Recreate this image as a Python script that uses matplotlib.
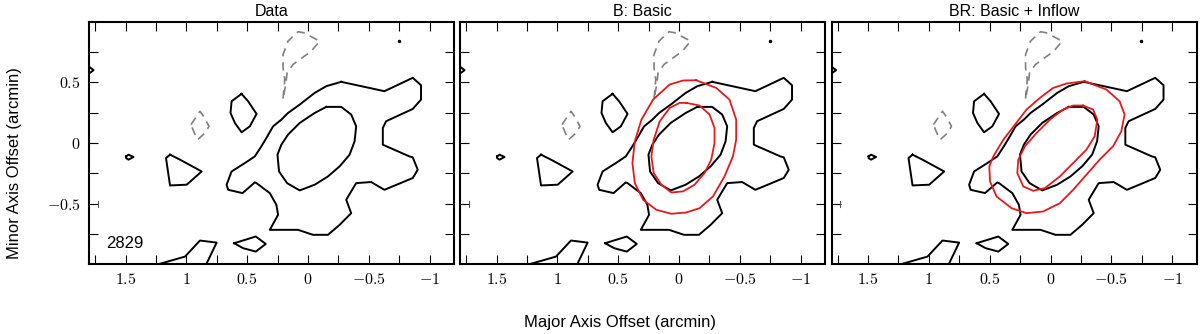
import matplotlib
matplotlib.use("Agg")
import matplotlib.pyplot as plt
from matplotlib.ticker import MultipleLocator, FuncFormatter

plt.rcParams['font.family'] = ['Liberation Sans', 'DejaVu Sans']
plt.rcParams['mathtext.fontset'] = 'cm'

# observed contours (arcmin), shared by every panel
outer_x = [-0.273, -0.628, -0.861, -0.929, -0.929, -0.861, -0.642, -0.615, -0.615, -0.833,
           -0.861, -0.902, -0.861, -0.628, -0.519, -0.396, -0.355, -0.314, -0.355, -0.260,
           -0.164, -0.041, 0.082, 0.314, 0.246, 0.260, 0.314, 0.423, 0.437, 0.538,
           0.656, 0.669, 0.628, 0.519, 0.437, 0.383, 0.342, 0.287, 0.219, 0.164,
           0.068, -0.055, -0.150]
outer_y = [0.503, 0.426, 0.536, 0.475, 0.357, 0.280, 0.179, 0.124, -0.014, -0.110,
           -0.118, -0.220, -0.288, -0.385, -0.321, -0.330, -0.398, -0.467, -0.577, -0.673,
           -0.755, -0.755, -0.714, -0.714, -0.591, -0.508, -0.412, -0.330, -0.324, -0.412,
           -0.385, -0.343, -0.234, -0.165, -0.110, -0.027, 0.041, 0.137, 0.192, 0.247,
           0.316, 0.412, 0.467]

inner_x = [-0.150, -0.273, -0.355, -0.396, -0.383, -0.342, -0.260, -0.164, -0.055, 0.068,
           0.172, 0.238, 0.251, 0.219, 0.164, 0.068, -0.055]
inner_y = [0.297, 0.297, 0.234, 0.137, 0.014, -0.096, -0.192, -0.275, -0.343, -0.390,
           -0.330, -0.234, -0.096, -0.014, 0.069, 0.165, 0.247]

blob_a_x = [0.546, 0.492, 0.423, 0.478, 0.546, 0.601, 0.637, 0.628]
blob_a_y = [0.404, 0.343, 0.239, 0.137, 0.088, 0.165, 0.247, 0.343]

tri_x = [1.134, 1.052, 0.874, 0.997, 1.134, 1.167]
tri_y = [-0.096, -0.137, -0.234, -0.343, -0.349, -0.124]

tiny_x = [1.495, 1.475, 1.434, 1.475, 1.495]
tiny_y = [-0.110, -0.096, -0.115, -0.137, -0.124]

edge_x = [1.83, 1.762, 1.83]
edge_y = [0.65, 0.599, 0.55]

blob_b_x = [0.607, 0.429, 0.347, 0.429, 0.533]
blob_b_y = [-0.824, -0.769, -0.830, -0.893, -0.865]

corner_x = [1.25, 1.230, 1.011, 0.888, 0.751, 0.839, 0.82]
corner_y = [-1.05, -0.997, -0.934, -0.802, -0.819, -1.003, -1.05]

# tiny features: a sliver near the left edge and a dot in the top right
sliver_x = [1.73, 1.73]
sliver_y = [-0.473, -0.523]
dot_x, dot_y = [-0.746], [0.838]

# negative contours (dashed)
neg_a_x = [0.205, 0.191, 0.205, 0.205, 0.164, 0.082, 0.036, -0.096, -0.027, 0.123, 0.172, 0.183]
neg_a_y = [0.365, 0.522, 0.618, 0.728, 0.838, 0.915, 0.907, 0.838, 0.755, 0.646, 0.577, 0.481]
neg_b_x = [0.962, 0.915, 0.888, 0.855, 0.814, 0.847, 0.907, 0.934]
neg_b_y = [0.151, 0.220, 0.261, 0.214, 0.137, 0.082, 0.027, 0.082]

# model B contours
b_outer_x = [-0.142, -0.306, -0.415, -0.470, -0.470, -0.443, -0.374, -0.279, -0.169, -0.060,
             0.063, 0.186, 0.295, 0.363, 0.383, 0.363, 0.309, 0.213, 0.077, -0.033]
b_outer_y = [0.516, 0.453, 0.357, 0.192, 0.027, -0.110, -0.275, -0.440, -0.536, -0.571,
             -0.582, -0.549, -0.467, -0.330, -0.165, 0.014, 0.192, 0.357, 0.481, 0.514]
b_inner_x = [-0.060, -0.169, -0.251, -0.292, -0.292, -0.265, -0.210, -0.128, -0.033, 0.063,
             0.145, 0.208, 0.227, 0.208, 0.158, 0.077, -0.005]
b_inner_y = [0.330, 0.308, 0.234, 0.124, 0.0, -0.137, -0.247, -0.343, -0.398, -0.407,
             -0.343, -0.247, -0.110, 0.027, 0.179, 0.288, 0.330]

# model BR contours
br_outer_x = [-0.281, -0.459, -0.568, -0.609, -0.582, -0.514, -0.404, -0.295, -0.186, -0.077,
              0.060, 0.197, 0.320, 0.443, 0.497, 0.503, 0.470, 0.388, 0.292, 0.197,
              0.087, -0.022, -0.131]
br_outer_y = [0.508, 0.440, 0.343, 0.234, 0.096, -0.027, -0.137, -0.261, -0.385, -0.495,
              -0.563, -0.577, -0.536, -0.440, -0.316, -0.192, -0.110, 0.027, 0.151, 0.275,
              0.371, 0.453, 0.489]
br_inner_x = [-0.268, -0.350, -0.385, -0.363, -0.295, -0.186, -0.077, 0.046, 0.142, 0.224,
              0.273, 0.265, 0.210, 0.115, 0.005, -0.104, -0.186]
br_inner_y = [0.308, 0.275, 0.192, 0.055, -0.055, -0.165, -0.275, -0.371, -0.393, -0.357,
              -0.247, -0.137, -0.027, 0.082, 0.192, 0.275, 0.308]

titles = ["Data", "B: Basic", "BR: Basic + Inflow"]
models = [None, [(b_outer_x, b_outer_y), (b_inner_x, b_inner_y)],
          [(br_outer_x, br_outer_y), (br_inner_x, br_inner_y)]]

solid = [(outer_x, outer_y), (inner_x, inner_y), (blob_a_x, blob_a_y), (tri_x, tri_y),
         (tiny_x, tiny_y), (edge_x, edge_y), (blob_b_x, blob_b_y), (corner_x, corner_y)]
dashed = [(neg_a_x, neg_a_y), (neg_b_x, neg_b_y)]


def closed(xs, ys):
    return list(xs) + [xs[0]], list(ys) + [ys[0]]


fig = plt.figure(figsize=(12, 3.34), dpi=100)
lefts = [89 / 1200, 460 / 1200, 831.5 / 1200]
fmt = FuncFormatter(lambda v, p: r'$%g$' % v if abs(v) > 1e-9 else r'$0$')

for i, left in enumerate(lefts):
    ax = fig.add_axes([left, 70 / 334, 365 / 1200, 242 / 334])
    for xs, ys in solid:
        cx, cy = closed(xs, ys)
        ax.plot(cx, cy, color='black', lw=1.4)
    ax.plot(sliver_x, sliver_y, color='#555555', lw=0.8)
    ax.plot(dot_x, dot_y, 'o', color='black', ms=1.5)
    for xs, ys in dashed:
        cx, cy = closed(xs, ys)
        ax.plot(cx, cy, color='#808080', lw=1.2, dashes=(5, 3.5))
    if models[i] is not None:
        for xs, ys in models[i]:
            cx, cy = closed(xs, ys)
            ax.plot(cx, cy, color='#e8191c', lw=1.3)
    ax.set_xlim(1.8, -1.2)
    ax.set_ylim(-0.995, 0.995)
    ax.xaxis.set_major_locator(MultipleLocator(0.5))
    ax.xaxis.set_minor_locator(MultipleLocator(0.25))
    ax.yaxis.set_major_locator(MultipleLocator(0.5))
    ax.yaxis.set_minor_locator(MultipleLocator(0.25))
    ax.xaxis.set_major_formatter(fmt)
    ax.yaxis.set_major_formatter(fmt)
    ax.tick_params(which='both', direction='in', top=True, right=True,
                   length=6.5, width=0.8, labelsize=11.5, pad=6)
    if i > 0:
        ax.tick_params(labelleft=False)
    for s in ax.spines.values():
        s.set_linewidth(1.5)
    ax.set_title(titles[i], fontsize=11.5, pad=4)
    if i == 0:
        ax.text(1.66, -0.83, "2829", fontsize=12, va='center', ha='left')

fig.text(15 / 1200, 1 - 163 / 334, "Minor Axis Offset (arcmin)", rotation=90,
         ha='center', va='center', fontsize=12)
fig.text(620 / 1200, 1 - 323 / 334, "Major Axis Offset (arcmin)",
         ha='center', va='center', fontsize=12)

fig.savefig("out.png", dpi=100)
